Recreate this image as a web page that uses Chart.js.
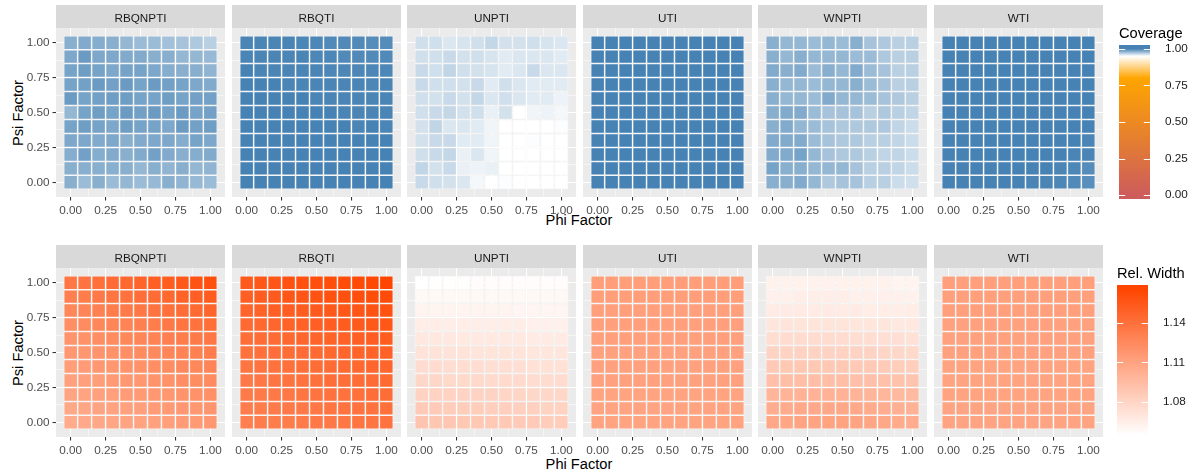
<!DOCTYPE html>
<html>
<head>
<meta charset="utf-8">
<script src="https://cdn.jsdelivr.net/npm/chart.js@4.4.1/dist/chart.umd.min.js"></script>
<style>
  html, body { margin: 0; padding: 0; background: #ffffff; }
  #figure { position: relative; width: 1191px; height: 474px; overflow: hidden; font-family: "Liberation Sans", Arial, sans-serif; }
  #figure canvas { position: absolute; }
  .axis-title { position: absolute; font-size: 14.67px; line-height: 14.67px; color: #000000; white-space: nowrap; }
  .axis-title.x { transform: translateX(-50%); }
  .axis-title.y { transform: translate(-50%, -50%) rotate(-90deg); }
</style>
</head>
<body>
<div id="figure">
  <div class="axis-title y" style="left:17.5px; top:112.5px;">Psi Factor</div>
  <div class="axis-title x" style="left:579px; top:213px;">Phi Factor</div>
  <div class="axis-title y" style="left:17.5px; top:352.5px;">Psi Factor</div>
  <div class="axis-title x" style="left:579px; top:457px;">Phi Factor</div>
</div>
<script>
// Facets and grid
const methods = ['RBQNPTI', 'RBQTI', 'UNPTI', 'UTI', 'WNPTI', 'WTI'];
const phiValues = [0, 0.1, 0.2, 0.3, 0.4, 0.5, 0.6, 0.7, 0.8, 0.9, 1.0];
const psiRows = [1.0, 0.9, 0.8, 0.7, 0.6, 0.5, 0.4, 0.3, 0.2, 0.1, 0.0];   // top row first
const majorTicks = [0, 0.25, 0.5, 0.75, 1];
const gridValues = [0, 0.125, 0.25, 0.375, 0.5, 0.625, 0.75, 0.875, 1];
const coverageTicks = [0, 0.25, 0.5, 0.75, 1];
const widthTicks = [1.08, 1.11, 1.14];
const coverageLimits = [0, 1];
const widthLimits = [1.0552, 1.1655];

// Coverage (rows: psi 1.0 -> 0.0, columns: phi 0.0 -> 1.0)
const coverageRBQNPTI = [
  [0.982, 0.984, 0.983, 0.982, 0.979, 0.977, 0.977, 0.975, 0.974, 0.972, 0.969],
  [0.985, 0.990, 0.985, 0.985, 0.984, 0.984, 0.982, 0.982, 0.979, 0.979, 0.978],
  [0.987, 0.989, 0.987, 0.985, 0.987, 0.987, 0.985, 0.983, 0.982, 0.982, 0.980],
  [0.987, 0.988, 0.990, 0.988, 0.990, 0.987, 0.990, 0.988, 0.987, 0.985, 0.984],
  [0.990, 0.987, 0.988, 0.989, 0.989, 0.987, 0.987, 0.989, 0.987, 0.988, 0.988],
  [0.979, 0.987, 0.989, 0.987, 0.990, 0.988, 0.990, 0.987, 0.990, 0.987, 0.988],
  [0.987, 0.989, 0.987, 0.985, 0.989, 0.987, 0.987, 0.985, 0.990, 0.988, 0.989],
  [0.985, 0.985, 0.984, 0.985, 0.982, 0.984, 0.985, 0.985, 0.983, 0.987, 0.985],
  [0.983, 0.988, 0.983, 0.984, 0.982, 0.984, 0.988, 0.984, 0.982, 0.983, 0.984],
  [0.982, 0.982, 0.982, 0.982, 0.982, 0.979, 0.982, 0.980, 0.982, 0.979, 0.980],
  [0.982, 0.977, 0.982, 0.977, 0.979, 0.977, 0.978, 0.982, 0.980, 0.978, 0.977]
];
const coverageRBQTI = [
  [0.999, 0.999, 0.999, 0.999, 0.998, 0.998, 0.997, 0.997, 0.997, 0.996, 0.996],
  [0.999, 0.999, 0.999, 0.999, 0.999, 0.998, 0.998, 0.997, 0.997, 0.997, 0.997],
  [1.000, 0.999, 0.999, 0.999, 0.999, 0.999, 0.998, 0.998, 0.998, 0.998, 0.998],
  [1.000, 1.000, 1.000, 0.999, 0.999, 0.999, 0.999, 0.999, 0.999, 0.998, 0.999],
  [1.000, 1.000, 1.000, 1.000, 1.000, 0.999, 0.999, 0.999, 0.999, 0.999, 0.999],
  [1.000, 1.000, 1.000, 1.000, 1.000, 1.000, 1.000, 0.999, 0.999, 0.999, 0.999],
  [1.000, 1.000, 1.000, 1.000, 1.000, 1.000, 1.000, 1.000, 0.999, 1.000, 0.999],
  [1.000, 1.000, 1.000, 1.000, 1.000, 1.000, 1.000, 1.000, 1.000, 1.000, 1.000],
  [1.000, 1.000, 1.000, 1.000, 1.000, 1.000, 1.000, 1.000, 1.000, 1.000, 1.000],
  [1.000, 1.000, 1.000, 1.000, 1.000, 1.000, 1.000, 1.000, 1.000, 1.000, 1.000],
  [1.000, 1.000, 1.000, 1.000, 1.000, 1.000, 1.000, 1.000, 1.000, 1.000, 1.000]
];
const coverageUNPTI = [
  [0.963, 0.963, 0.960, 0.961, 0.963, 0.966, 0.962, 0.962, 0.963, 0.961, 0.960],
  [0.963, 0.963, 0.965, 0.962, 0.963, 0.961, 0.958, 0.960, 0.960, 0.960, 0.958],
  [0.965, 0.963, 0.967, 0.963, 0.962, 0.961, 0.958, 0.960, 0.965, 0.960, 0.960],
  [0.965, 0.963, 0.963, 0.962, 0.965, 0.958, 0.963, 0.960, 0.958, 0.958, 0.958],
  [0.963, 0.962, 0.965, 0.962, 0.966, 0.960, 0.963, 0.960, 0.958, 0.958, 0.955],
  [0.963, 0.965, 0.966, 0.962, 0.963, 0.956, 0.962, 0.950, 0.954, 0.955, 0.953],
  [0.962, 0.967, 0.960, 0.960, 0.958, 0.954, 0.950, 0.950, 0.950, 0.950, 0.951],
  [0.962, 0.965, 0.965, 0.958, 0.958, 0.954, 0.950, 0.950, 0.951, 0.950, 0.950],
  [0.963, 0.965, 0.966, 0.956, 0.960, 0.954, 0.950, 0.950, 0.950, 0.950, 0.950],
  [0.967, 0.962, 0.965, 0.956, 0.955, 0.956, 0.950, 0.950, 0.950, 0.950, 0.950],
  [0.965, 0.963, 0.962, 0.960, 0.953, 0.950, 0.951, 0.950, 0.950, 0.950, 0.950]
];
const coverageUTI = [
  [1.000, 1.000, 1.000, 1.000, 1.000, 1.000, 1.000, 1.000, 1.000, 1.000, 1.000],
  [1.000, 1.000, 1.000, 1.000, 1.000, 1.000, 1.000, 1.000, 1.000, 1.000, 1.000],
  [1.000, 1.000, 1.000, 1.000, 1.000, 1.000, 1.000, 1.000, 1.000, 1.000, 1.000],
  [1.000, 1.000, 1.000, 1.000, 1.000, 1.000, 1.000, 1.000, 1.000, 1.000, 1.000],
  [1.000, 1.000, 1.000, 1.000, 1.000, 1.000, 1.000, 1.000, 1.000, 1.000, 1.000],
  [1.000, 1.000, 1.000, 1.000, 1.000, 1.000, 1.000, 1.000, 1.000, 1.000, 1.000],
  [1.000, 1.000, 1.000, 1.000, 1.000, 1.000, 1.000, 1.000, 1.000, 1.000, 1.000],
  [1.000, 1.000, 1.000, 1.000, 1.000, 1.000, 1.000, 1.000, 1.000, 1.000, 1.000],
  [1.000, 1.000, 1.000, 1.000, 1.000, 1.000, 1.000, 1.000, 1.000, 1.000, 1.000],
  [1.000, 1.000, 1.000, 1.000, 1.000, 1.000, 1.000, 1.000, 1.000, 1.000, 1.000],
  [1.000, 1.000, 1.000, 1.000, 1.000, 1.000, 1.000, 1.000, 1.000, 1.000, 1.000]
];
const coverageWNPTI = [
  [0.982, 0.979, 0.979, 0.977, 0.979, 0.977, 0.982, 0.974, 0.972, 0.969, 0.969],
  [0.982, 0.979, 0.982, 0.979, 0.979, 0.979, 0.977, 0.977, 0.972, 0.969, 0.969],
  [0.984, 0.982, 0.984, 0.977, 0.982, 0.979, 0.984, 0.977, 0.974, 0.969, 0.969],
  [0.982, 0.979, 0.979, 0.977, 0.979, 0.979, 0.982, 0.977, 0.974, 0.969, 0.969],
  [0.982, 0.979, 0.979, 0.977, 0.984, 0.979, 0.979, 0.977, 0.974, 0.972, 0.969],
  [0.982, 0.984, 0.984, 0.977, 0.974, 0.974, 0.974, 0.969, 0.972, 0.969, 0.967],
  [0.982, 0.984, 0.979, 0.977, 0.974, 0.972, 0.972, 0.972, 0.972, 0.967, 0.964],
  [0.984, 0.984, 0.984, 0.977, 0.974, 0.972, 0.972, 0.969, 0.969, 0.967, 0.964],
  [0.984, 0.984, 0.987, 0.979, 0.974, 0.972, 0.972, 0.969, 0.967, 0.967, 0.964],
  [0.987, 0.982, 0.982, 0.979, 0.979, 0.979, 0.974, 0.969, 0.969, 0.967, 0.964],
  [0.982, 0.982, 0.984, 0.979, 0.972, 0.974, 0.974, 0.969, 0.969, 0.964, 0.963]
];
const coverageWTI = [
  [1.000, 1.000, 1.000, 1.000, 1.000, 1.000, 1.000, 1.000, 1.000, 1.000, 1.000],
  [1.000, 1.000, 1.000, 1.000, 1.000, 1.000, 1.000, 1.000, 1.000, 1.000, 1.000],
  [1.000, 1.000, 1.000, 1.000, 1.000, 1.000, 1.000, 1.000, 1.000, 1.000, 1.000],
  [1.000, 1.000, 1.000, 1.000, 1.000, 1.000, 1.000, 1.000, 1.000, 1.000, 1.000],
  [1.000, 1.000, 1.000, 1.000, 1.000, 1.000, 1.000, 1.000, 1.000, 1.000, 1.000],
  [1.000, 1.000, 1.000, 1.000, 1.000, 1.000, 1.000, 1.000, 1.000, 1.000, 1.000],
  [1.000, 1.000, 1.000, 1.000, 1.000, 1.000, 1.000, 1.000, 1.000, 1.000, 1.000],
  [1.000, 1.000, 1.000, 1.000, 1.000, 1.000, 1.000, 1.000, 1.000, 1.000, 0.999],
  [1.000, 1.000, 1.000, 1.000, 1.000, 1.000, 1.000, 1.000, 1.000, 0.999, 0.999],
  [1.000, 1.000, 1.000, 1.000, 1.000, 1.000, 1.000, 1.000, 0.999, 0.998, 0.996],
  [1.000, 1.000, 1.000, 1.000, 1.000, 1.000, 0.999, 0.999, 0.998, 0.997, 0.995]
];

// Relative width (rows: psi 1.0 -> 0.0, columns: phi 0.0 -> 1.0)
const widthRBQNPTI = [
  [1.136, 1.138, 1.140, 1.143, 1.145, 1.147, 1.150, 1.152, 1.154, 1.157, 1.159],
  [1.131, 1.133, 1.135, 1.137, 1.139, 1.141, 1.143, 1.145, 1.148, 1.150, 1.152],
  [1.126, 1.128, 1.130, 1.132, 1.134, 1.136, 1.138, 1.140, 1.142, 1.144, 1.146],
  [1.122, 1.124, 1.126, 1.128, 1.129, 1.131, 1.133, 1.135, 1.137, 1.139, 1.141],
  [1.119, 1.120, 1.122, 1.124, 1.126, 1.127, 1.129, 1.131, 1.133, 1.134, 1.136],
  [1.116, 1.117, 1.119, 1.120, 1.122, 1.124, 1.125, 1.127, 1.129, 1.130, 1.132],
  [1.113, 1.114, 1.116, 1.117, 1.119, 1.120, 1.122, 1.123, 1.125, 1.126, 1.128],
  [1.111, 1.112, 1.113, 1.115, 1.116, 1.117, 1.119, 1.120, 1.122, 1.123, 1.124],
  [1.109, 1.110, 1.111, 1.112, 1.114, 1.115, 1.116, 1.117, 1.119, 1.120, 1.121],
  [1.107, 1.108, 1.109, 1.110, 1.111, 1.112, 1.114, 1.115, 1.116, 1.117, 1.118],
  [1.105, 1.106, 1.107, 1.108, 1.109, 1.110, 1.111, 1.112, 1.114, 1.115, 1.116]
];
const widthRBQTI = [
  [1.153, 1.155, 1.156, 1.158, 1.159, 1.160, 1.161, 1.162, 1.163, 1.164, 1.165],
  [1.150, 1.152, 1.153, 1.155, 1.156, 1.157, 1.158, 1.159, 1.160, 1.161, 1.162],
  [1.147, 1.148, 1.150, 1.151, 1.152, 1.153, 1.154, 1.155, 1.156, 1.157, 1.158],
  [1.144, 1.145, 1.146, 1.148, 1.149, 1.150, 1.151, 1.152, 1.153, 1.154, 1.155],
  [1.141, 1.142, 1.143, 1.145, 1.146, 1.147, 1.148, 1.149, 1.150, 1.151, 1.152],
  [1.139, 1.140, 1.141, 1.142, 1.143, 1.144, 1.145, 1.146, 1.147, 1.148, 1.149],
  [1.137, 1.138, 1.139, 1.140, 1.141, 1.142, 1.143, 1.144, 1.145, 1.146, 1.146],
  [1.135, 1.136, 1.137, 1.138, 1.139, 1.140, 1.141, 1.141, 1.142, 1.143, 1.144],
  [1.134, 1.134, 1.135, 1.136, 1.137, 1.138, 1.139, 1.139, 1.140, 1.141, 1.142],
  [1.132, 1.133, 1.134, 1.135, 1.135, 1.136, 1.137, 1.138, 1.138, 1.139, 1.140],
  [1.131, 1.132, 1.132, 1.133, 1.134, 1.135, 1.135, 1.136, 1.137, 1.137, 1.138]
];
const widthUNPTI = [
  [1.055, 1.056, 1.056, 1.056, 1.057, 1.057, 1.057, 1.057, 1.057, 1.057, 1.057],
  [1.059, 1.059, 1.059, 1.059, 1.059, 1.059, 1.059, 1.059, 1.059, 1.059, 1.059],
  [1.062, 1.062, 1.062, 1.062, 1.062, 1.062, 1.062, 1.061, 1.061, 1.061, 1.061],
  [1.066, 1.066, 1.065, 1.065, 1.065, 1.065, 1.065, 1.065, 1.064, 1.064, 1.064],
  [1.069, 1.069, 1.069, 1.068, 1.068, 1.068, 1.068, 1.068, 1.067, 1.067, 1.067],
  [1.072, 1.072, 1.072, 1.072, 1.071, 1.071, 1.071, 1.071, 1.070, 1.070, 1.070],
  [1.076, 1.076, 1.075, 1.075, 1.075, 1.074, 1.074, 1.074, 1.073, 1.073, 1.073],
  [1.079, 1.079, 1.078, 1.078, 1.078, 1.077, 1.077, 1.077, 1.076, 1.076, 1.076],
  [1.082, 1.082, 1.082, 1.081, 1.081, 1.081, 1.080, 1.080, 1.079, 1.079, 1.079],
  [1.086, 1.086, 1.085, 1.085, 1.085, 1.084, 1.084, 1.083, 1.083, 1.082, 1.082],
  [1.090, 1.089, 1.089, 1.088, 1.088, 1.087, 1.087, 1.086, 1.086, 1.085, 1.085]
];
const widthUTI = [
  [1.113, 1.113, 1.113, 1.113, 1.113, 1.113, 1.113, 1.113, 1.113, 1.113, 1.113],
  [1.113, 1.113, 1.113, 1.113, 1.113, 1.113, 1.113, 1.113, 1.113, 1.113, 1.113],
  [1.112, 1.112, 1.112, 1.112, 1.112, 1.112, 1.112, 1.112, 1.112, 1.112, 1.112],
  [1.112, 1.112, 1.112, 1.112, 1.112, 1.112, 1.112, 1.112, 1.112, 1.112, 1.112],
  [1.112, 1.112, 1.112, 1.112, 1.112, 1.112, 1.112, 1.112, 1.112, 1.112, 1.112],
  [1.111, 1.111, 1.111, 1.111, 1.111, 1.111, 1.111, 1.111, 1.111, 1.111, 1.111],
  [1.111, 1.111, 1.111, 1.111, 1.111, 1.111, 1.111, 1.111, 1.111, 1.111, 1.111],
  [1.111, 1.111, 1.111, 1.111, 1.111, 1.111, 1.111, 1.111, 1.111, 1.111, 1.111],
  [1.110, 1.110, 1.110, 1.110, 1.110, 1.110, 1.110, 1.110, 1.110, 1.110, 1.110],
  [1.110, 1.110, 1.110, 1.110, 1.110, 1.110, 1.110, 1.110, 1.110, 1.110, 1.110],
  [1.110, 1.110, 1.110, 1.110, 1.110, 1.110, 1.110, 1.110, 1.110, 1.110, 1.110]
];
const widthWNPTI = [
  [1.063, 1.063, 1.063, 1.063, 1.063, 1.063, 1.063, 1.063, 1.063, 1.062, 1.062],
  [1.064, 1.064, 1.065, 1.065, 1.065, 1.065, 1.064, 1.064, 1.064, 1.064, 1.063],
  [1.067, 1.067, 1.067, 1.067, 1.067, 1.067, 1.067, 1.066, 1.066, 1.066, 1.066],
  [1.070, 1.071, 1.071, 1.071, 1.071, 1.071, 1.070, 1.070, 1.070, 1.069, 1.069],
  [1.075, 1.076, 1.076, 1.076, 1.076, 1.076, 1.075, 1.075, 1.074, 1.074, 1.073],
  [1.081, 1.082, 1.082, 1.082, 1.082, 1.082, 1.081, 1.081, 1.080, 1.079, 1.078],
  [1.087, 1.088, 1.088, 1.088, 1.088, 1.088, 1.087, 1.087, 1.086, 1.085, 1.084],
  [1.093, 1.094, 1.094, 1.094, 1.094, 1.094, 1.093, 1.093, 1.092, 1.091, 1.090],
  [1.099, 1.100, 1.101, 1.101, 1.101, 1.101, 1.100, 1.099, 1.098, 1.097, 1.096],
  [1.104, 1.105, 1.106, 1.106, 1.107, 1.107, 1.106, 1.105, 1.104, 1.102, 1.101],
  [1.107, 1.108, 1.109, 1.109, 1.110, 1.110, 1.109, 1.108, 1.107, 1.105, 1.104]
];
const widthWTI = [
  [1.112, 1.112, 1.112, 1.112, 1.112, 1.112, 1.112, 1.112, 1.112, 1.112, 1.112],
  [1.112, 1.112, 1.112, 1.112, 1.112, 1.112, 1.112, 1.112, 1.112, 1.112, 1.112],
  [1.112, 1.112, 1.112, 1.112, 1.112, 1.112, 1.112, 1.112, 1.112, 1.112, 1.112],
  [1.111, 1.111, 1.111, 1.111, 1.111, 1.111, 1.111, 1.111, 1.111, 1.111, 1.111],
  [1.111, 1.111, 1.111, 1.111, 1.111, 1.111, 1.111, 1.111, 1.111, 1.111, 1.111],
  [1.111, 1.111, 1.111, 1.111, 1.111, 1.111, 1.111, 1.111, 1.111, 1.111, 1.111],
  [1.110, 1.110, 1.110, 1.110, 1.110, 1.110, 1.110, 1.110, 1.110, 1.110, 1.110],
  [1.110, 1.110, 1.110, 1.110, 1.110, 1.110, 1.110, 1.110, 1.110, 1.110, 1.110],
  [1.110, 1.110, 1.110, 1.110, 1.110, 1.110, 1.110, 1.110, 1.110, 1.110, 1.110],
  [1.109, 1.109, 1.109, 1.109, 1.109, 1.109, 1.109, 1.109, 1.109, 1.109, 1.109],
  [1.109, 1.109, 1.109, 1.109, 1.109, 1.109, 1.109, 1.109, 1.109, 1.109, 1.109]
];

const coverageGrids = [coverageRBQNPTI, coverageRBQTI, coverageUNPTI, coverageUTI, coverageWNPTI, coverageWTI];
const widthGrids = [widthRBQNPTI, widthRBQTI, widthUNPTI, widthUTI, widthWNPTI, widthWTI];

// Colour scales (ggplot-like gradients)
const coverageStops = [[0, '#CD5C5C'], [0.8, '#FFA500'], [0.95, '#FFFFFF'], [1, '#4682B4']];
const widthStops = [[0, '#FFFFFF'], [1, '#FF4500']];

const FONT = '"Liberation Sans", Arial, Helvetica, sans-serif';
const panelLefts = [56, 232, 407, 583, 758, 934];
const PANEL = 169;
const STRIP = 23;
const Y_AXIS_W = 56;
const X_AXIS_H = 20;

function hexRgb(h) {
  return [parseInt(h.slice(1, 3), 16), parseInt(h.slice(3, 5), 16), parseInt(h.slice(5, 7), 16)];
}

function gradientColour(stops, f) {
  f = Math.max(0, Math.min(1, f));
  for (let i = 1; i < stops.length; i++) {
    if (f <= stops[i][0]) {
      const [f0, c0] = stops[i - 1];
      const [f1, c1] = stops[i];
      const t = (f - f0) / (f1 - f0);
      const a = hexRgb(c0), b = hexRgb(c1);
      const rgb = a.map((v, k) => Math.round(v + (b[k] - v) * t));
      return `rgb(${rgb[0]},${rgb[1]},${rgb[2]})`;
    }
  }
  return stops[stops.length - 1][1];
}

function colourFor(stops, limits) {
  return (v) => gradientColour(stops, (v - limits[0]) / (limits[1] - limits[0]));
}

// Strip + panel background
const panelDecor = {
  id: 'panelDecor',
  beforeDraw(chart, args, opts) {
    if (!opts.strip) return;
    const { ctx, chartArea: a } = chart;
    ctx.save();
    ctx.fillStyle = '#EBEBEB';
    ctx.fillRect(a.left, a.top, a.right - a.left, a.bottom - a.top);
    ctx.fillStyle = '#D9D9D9';
    ctx.fillRect(a.left, a.top - STRIP, a.right - a.left, STRIP);
    ctx.fillStyle = '#1A1A1A';
    ctx.font = `11.73px ${FONT}`;
    ctx.textAlign = 'center';
    ctx.textBaseline = 'alphabetic';
    ctx.fillText(opts.strip, (a.left + a.right) / 2, a.top - 6.3);
    ctx.restore();
  }
};

function isMajor(v) {
  return majorTicks.includes(v);
}

// keep the plot box exactly where the layout puts it
function noScalePadding(s) {
  s.paddingTop = 0;
  s.paddingBottom = 0;
  s.paddingLeft = 0;
  s.paddingRight = 0;
}

function panelAxis(showLabels, fitFn) {
  return {
    type: 'linear',
    offset: false,
    min: -0.105,
    max: 1.105,
    afterBuildTicks: (s) => { s.ticks = gridValues.map((v) => ({ value: v })); },
    afterFit: (s) => { fitFn(s); noScalePadding(s); },
    border: { display: false },
    grid: {
      offset: false,
      color: '#FFFFFF',
      lineWidth: (c) => (c.tick && isMajor(c.tick.value) ? 1.07 : 0.53),
      drawTicks: showLabels,
      tickLength: 3.5,
      tickWidth: 1.07,
      tickColor: (c) => (c.tick && isMajor(c.tick.value) ? '#333333' : 'rgba(0,0,0,0)')
    },
    ticks: {
      display: showLabels,
      autoSkip: false,
      maxRotation: 0,
      minRotation: 0,
      color: '#4D4D4D',
      font: { size: 11.73, family: FONT },
      callback: (v) => (isMajor(v) ? v.toFixed(2) : '')
    }
  };
}

function tileDatasets(grid, colourFn) {
  return psiRows.map((psi, r) => ({
    data: phiValues.map((phi) => ({ x: phi, y: [psi - 0.05, psi + 0.05] })),
    backgroundColor: grid[r].map(colourFn),
    borderColor: '#FFFFFF',
    borderWidth: 0.75,
    borderSkipped: false,
    inflateAmount: 0,
    barPercentage: 1,
    categoryPercentage: 1,
    grouped: false
  }));
}

function makePanel(figure, left, top, name, grid, colourFn, showY) {
  const canvas = document.createElement('canvas');
  canvas.width = Y_AXIS_W + PANEL + 2;
  canvas.height = STRIP + PANEL + X_AXIS_H;
  canvas.style.left = (left - Y_AXIS_W) + 'px';
  canvas.style.top = (top - STRIP) + 'px';
  figure.appendChild(canvas);
  new Chart(canvas, {
    type: 'bar',
    data: { datasets: tileDatasets(grid, colourFn) },
    options: {
      responsive: false,
      animation: false,
      devicePixelRatio: 1,
      layout: { padding: { top: STRIP, right: 2, bottom: 0, left: 0 } },
      plugins: {
        legend: { display: false },
        tooltip: { enabled: false },
        panelDecor: { strip: name }
      },
      scales: {
        x: panelAxis(true, (s) => { s.height = X_AXIS_H; }),
        y: panelAxis(showY, (s) => { s.width = Y_AXIS_W; })
      }
    },
    plugins: [panelDecor]
  });
}

// Colour bar legend
const colourBar = {
  id: 'colourBar',
  afterDatasetsDraw(chart, args, opts) {
    const { ctx, chartArea: a } = chart;
    const y = chart.scales.y;
    ctx.save();
    ctx.strokeStyle = '#FFFFFF';
    ctx.lineWidth = 1;
    const w = (a.right - a.left) / 5;
    opts.ticks.forEach((v) => {
      const py = Math.round(y.getPixelForValue(v)) + 0.5;
      ctx.beginPath();
      ctx.moveTo(a.left, py); ctx.lineTo(a.left + w, py);
      ctx.moveTo(a.right - w, py); ctx.lineTo(a.right, py);
      ctx.stroke();
    });
    ctx.fillStyle = '#000000';
    ctx.font = `14.67px ${FONT}`;
    ctx.textAlign = 'left';
    ctx.textBaseline = 'alphabetic';
    ctx.fillText(opts.title, a.left, a.top - 7);
    ctx.restore();
  }
};

function makeColourBar(figure, left, top, title, limits, stops, ticks, axisW) {
  const half = (limits[1] - limits[0]) * 0.5 / 19;
  const lo = limits[0] - half, hi = limits[1] + half;
  const canvas = document.createElement('canvas');
  canvas.width = 1191 - 1110;
  canvas.height = 210;
  canvas.style.left = '1110px';
  canvas.style.top = top + 'px';
  figure.appendChild(canvas);
  new Chart(canvas, {
    type: 'bar',
    data: {
      labels: [title],
      datasets: [{
        data: [[lo, hi]],
        barPercentage: 1,
        categoryPercentage: 1,
        borderWidth: 0,
        inflateAmount: 0,
        backgroundColor: (c) => {
          const ch = c.chart;
          if (!ch.chartArea) return '#FFFFFF';
          const ys = ch.scales.y;
          const g = ch.ctx.createLinearGradient(0, ys.getPixelForValue(limits[0]), 0, ys.getPixelForValue(limits[1]));
          stops.forEach(([f, col]) => g.addColorStop(f, col));
          return g;
        }
      }]
    },
    options: {
      responsive: false,
      animation: false,
      devicePixelRatio: 1,
      layout: { padding: { top: 45, bottom: 11, left: left - 1110, right: 0 } },
      plugins: {
        legend: { display: false },
        tooltip: { enabled: false },
        colourBar: { title: title, ticks: ticks }
      },
      scales: {
        x: { display: false },
        y: {
          position: 'right',
          min: lo,
          max: hi,
          afterBuildTicks: (s) => { s.ticks = ticks.map((v) => ({ value: v })); },
          afterFit: (s) => { s.width = axisW; noScalePadding(s); },
          border: { display: false },
          grid: { display: false },
          ticks: {
            padding: 7,
            color: '#1A1A1A',
            font: { size: 11.73, family: FONT },
            callback: (v) => v.toFixed(2)
          }
        }
      }
    },
    plugins: [colourBar]
  });
}

const figure = document.getElementById('figure');
const coverageColour = colourFor(coverageStops, coverageLimits);
const widthColour = colourFor(widthStops, widthLimits);

methods.forEach((m, i) => {
  makePanel(figure, panelLefts[i], 28, m, coverageGrids[i], coverageColour, i === 0);
  makePanel(figure, panelLefts[i], 268, m, widthGrids[i], widthColour, i === 0);
});

makeColourBar(figure, 1119, 0, 'Coverage', coverageLimits, coverageStops, coverageTicks, 41);
makeColourBar(figure, 1117, 240, 'Rel. Width', widthLimits, widthStops, widthTicks, 43);
</script>
</body>
</html>
